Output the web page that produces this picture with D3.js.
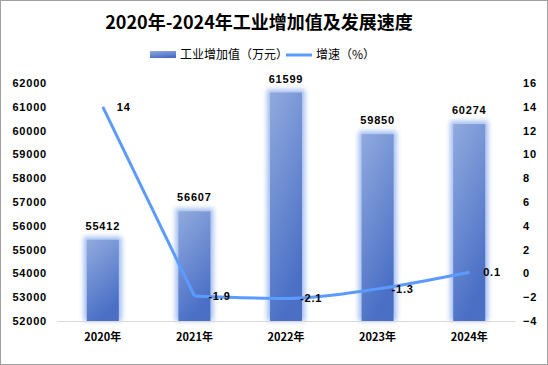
<!DOCTYPE html>
<html><head><meta charset="utf-8">
<script src="https://cdn.jsdelivr.net/npm/d3@7"></script>
<style>body{margin:0;background:#fff}svg{display:block}</style>
</head><body>
<script>
const categories = ["2020年","2021年","2022年","2023年","2024年"];
const valueAdded = [55412, 56607, 61599, 59850, 60274];
const growth = [14, -1.9, -2.1, -1.3, 0.1];
const leftTicks = [52000,53000,54000,55000,56000,57000,58000,59000,60000,61000,62000];
const rightTicks = [-4,-2,0,2,4,6,8,10,12,14,16];
const title = "2020年-2024年工业增加值及发展速度";
const seriesNames = ["工业增加值（万元）","增速（%）"];

(function(){
const W = 548, H = 365;
const svg = d3.select("body").append("svg").attr("width", W).attr("height", H);
const font = "Arial, 'Liberation Sans', 'Noto Sans CJK SC', sans-serif";
const cjk = "'Noto Sans CJK SC', 'Microsoft YaHei', sans-serif";
const ls = 0.8;

const defs = svg.append("defs");
const grad = defs.append("linearGradient").attr("id","barGrad").attr("x1","0").attr("y1","0").attr("x2","0.35").attr("y2","1");
grad.append("stop").attr("offset","0%").attr("stop-color","#91AADE");
grad.append("stop").attr("offset","100%").attr("stop-color","#4A6FC5");
const f = defs.append("filter").attr("id","glow").attr("x","-50%").attr("y","-20%").attr("width","200%").attr("height","140%");
f.append("feGaussianBlur").attr("stdDeviation", 2.8);

svg.append("rect").attr("x",0.5).attr("y",0.5).attr("width",W-1).attr("height",H-1)
  .attr("fill","#fff").attr("stroke","#A0A0A0");

const pl = 57, pr = 515, pt = 83, pb = 321;
const x = d3.scaleBand().domain(categories).range([pl, pr]);
const yL = d3.scaleLinear().domain([52000, 62000]).range([pb, pt]);
const yR = d3.scaleLinear().domain([-4, 16]).range([pb, pt]);

svg.append("text").attr("x", 259).attr("y", 29).attr("text-anchor","middle")
  .attr("font-family", cjk).attr("font-weight","bold").attr("font-size", 18).attr("fill","#000").text(title);

const lg = svg.append("g");
lg.append("rect").attr("x",150).attr("y",51).attr("width",26).attr("height",7).attr("fill","url(#barGrad)");
lg.append("text").attr("x",180).attr("y",59).attr("font-family",cjk).attr("font-size",12).attr("fill","#000").text(seriesNames[0]);
lg.append("line").attr("x1",286).attr("x2",312).attr("y1",55).attr("y2",55).attr("stroke","#5B9BFF").attr("stroke-width",3);
lg.append("text").attr("x",316).attr("y",59).attr("font-family",cjk).attr("font-size",12).attr("fill","#000").text(seriesNames[1]);

const axL = d3.axisLeft(yL).tickValues(leftTicks).tickFormat(d3.format("d")).tickSize(0).tickPadding(0);
const gL = svg.append("g").attr("transform",`translate(47,0)`).call(axL);
gL.select(".domain").remove();
gL.selectAll("text").attr("font-family",font).attr("font-weight","bold").attr("font-size",11).attr("letter-spacing",ls).attr("fill","#000");

const axR = d3.axisRight(yR).tickValues(rightTicks).tickFormat(d3.format("d")).tickSize(0).tickPadding(0);
const gR = svg.append("g").attr("transform",`translate(523,0)`).call(axR);
gR.select(".domain").remove();
gR.selectAll("text").attr("font-family",font).attr("font-weight","bold").attr("font-size",11).attr("letter-spacing",ls).attr("fill","#000");

const axB = d3.axisBottom(x).tickSize(0).tickPadding(12);
const gB = svg.append("g").attr("transform",`translate(0,${pb})`).call(axB);
gB.select(".domain").attr("stroke","#D9D9D9");
gB.selectAll("text").attr("font-family",cjk).attr("font-weight","bold").attr("font-size",11).attr("fill","#000");

const bw = 32;
const bars = svg.append("g");
categories.forEach((c,i)=>{
  const cx = x(c) + x.bandwidth()/2;
  bars.append("rect").attr("x",cx-bw/2-3).attr("y",yL(valueAdded[i])-3).attr("width",bw+6).attr("height",pb-yL(valueAdded[i])+3)
    .attr("fill","#A3BEF0").attr("filter","url(#glow)");
  bars.append("rect").attr("x",cx-bw/2).attr("y",yL(valueAdded[i])).attr("width",bw).attr("height",pb-yL(valueAdded[i]))
    .attr("fill","url(#barGrad)");
  svg.append("text").attr("x",cx).attr("y",yL(valueAdded[i])-10).attr("text-anchor","middle")
    .attr("font-family",font).attr("font-weight","bold").attr("font-size",11).attr("letter-spacing",ls).attr("fill","#000").text(valueAdded[i]);
});
gB.raise();

const pts = categories.map((c,i)=>[x(c)+x.bandwidth()/2, yR(growth[i])]);
const lineG = svg.append("g").attr("fill","none").attr("stroke","#5B9BFF").attr("stroke-width",3).attr("stroke-linejoin","round");
lineG.append("path").attr("d", d3.line()(pts.slice(0,2)));
lineG.append("path").attr("d", d3.line().curve(d3.curveMonotoneX)(pts.slice(1)));
pts.forEach((p,i)=>{
  svg.append("text").attr("x",p[0]+14).attr("y",p[1]+4).attr("text-anchor","start")
    .attr("font-family",font).attr("font-weight","bold").attr("font-size",11).attr("letter-spacing",ls).attr("fill","#000").text(growth[i]);
});
})();
</script>
</body></html>
